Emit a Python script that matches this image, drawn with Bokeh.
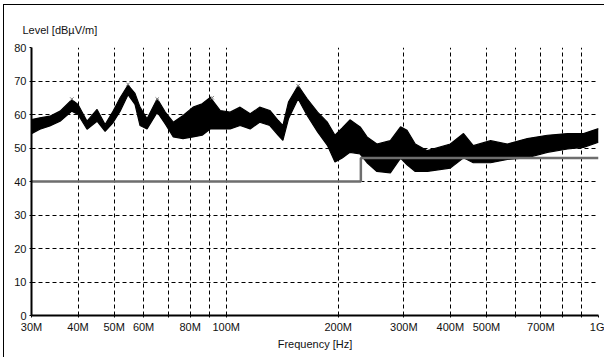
from bokeh.plotting import figure
from bokeh.models import Range1d, FixedTicker
from bokeh.embed import file_html
from bokeh.resources import INLINE

# Measured trace envelope (frequency in MHz, level in dBuV/m)
freq_mhz = [30, 31.6, 33.6, 35.8, 38.5, 40.0, 42.3, 45.0, 47.3, 49.7, 51.9, 54.5, 56.9,
            58.7, 61.3, 65.3, 68.6, 72.1, 76.6, 81.5, 86.2, 90.6, 96.3, 102.5, 109, 116,
            123, 131, 138, 142, 147, 156, 165, 176, 187, 196, 205, 215, 229, 239, 254,
            276, 294, 306, 322, 347, 400, 434, 461, 513, 569, 644, 729, 826, 912, 1000]
level_upper = [58.5, 59, 59.5, 61, 64.4, 63, 58, 61.5, 57, 61, 65, 68.8, 66.3,
               62.2, 58.7, 64.7, 60.7, 57.7, 59.7, 62.2, 63.2, 65.1, 61.2, 60.7, 62.2, 60.2,
               62.2, 61.2, 58.2, 56.7, 63.7, 68.6, 64.7, 60.7, 57.7, 53.8, 56, 58.4, 56.3, 53.3, 51.2,
               52.2, 56.3, 55.3, 51.2, 49.2, 51.2, 54.3, 50.7, 52.2, 51.2, 52.8, 53.8, 54.3, 54.3, 55.8]
level_lower = [54.3, 55.6, 56.6, 58, 61, 60, 55.6, 58, 55, 57.6, 61, 65.9, 63,
               56.7, 55.7, 60.7, 57.2, 53.3, 52.8, 53.3, 53.8, 55.7, 55.7, 55.7, 56.7, 55.7,
               57.7, 56.7, 53.8, 52.3, 58.7, 64.7, 59.7, 54.8, 50.8, 45.8, 47, 48.7, 48.2, 45.6, 43,
               42.6, 47, 45, 43, 43, 44, 47.1, 45.6, 45.6, 46.6, 47.1, 48.7, 49.7, 50.2, 51.7]

# Limit line
limit_freq = [30, 230, 230, 1000]
limit_level = [40, 40, 47, 47]

# Peak markers
peak_freq = [38.5, 54.5, 65.3, 91.7, 156]
peak_level = [64.6, 69.0, 64.6, 65.0, 68.6]

# Axis ticks
x_ticks = [30, 40, 50, 60, 70, 80, 90, 100, 200, 300, 400, 500, 600, 700, 800, 900, 1000]
x_tick_labels = ["30M", "40M", "50M", "60M", "", "80M", "", "100M", "200M", "300M",
                 "400M", "500M", "", "700M", "", "", "1G"]
y_ticks = [0, 10, 20, 30, 40, 50, 60, 70, 80]

font = "Liberation Sans"

p = figure(width=601, height=353, x_axis_type="log",
           x_range=Range1d(30, 1000), y_range=Range1d(0, 80),
           output_backend="svg", toolbar_location=None,
           min_border_left=27, min_border_right=7, min_border_top=42, min_border_bottom=43)
p.outline_line_color = None
p.background_fill_color = "white"
p.border_fill_color = "white"
p.styles = {
    "margin-left": "3px",
    "margin-top": "4px",
    "border-left": "1px solid black",
    "border-top": "1px solid black",
}

p.title.text = "Level [dBµV/m]"
p.title.align = "left"
p.title.offset = -9
p.title.standoff = 23
p.title.text_font = font
p.title.text_font_size = "11px"
p.title.text_font_style = "normal"
p.title.text_color = "#111111"

p.varea(x=freq_mhz, y1=level_lower, y2=level_upper, fill_color="black")
p.line(x=freq_mhz, y=level_upper, line_color="black", line_width=1.2)
p.line(x=freq_mhz, y=level_lower, line_color="black", line_width=1.2)
p.line(x=limit_freq, y=limit_level, line_color="#6e6e6e", line_width=2.5)
p.scatter(x=peak_freq, y=peak_level, marker="x", size=5, line_color="#808080", line_width=1)

p.xaxis.ticker = FixedTicker(ticks=x_ticks)
p.xaxis.major_label_overrides = {t: lab for t, lab in zip(x_ticks, x_tick_labels)}
p.yaxis.ticker = FixedTicker(ticks=y_ticks)
for ax in (p.xaxis, p.yaxis):
    ax.axis_line_color = "black"
    ax.axis_line_width = 2
    ax.major_tick_out = 2
    ax.major_tick_in = 0
    ax.minor_tick_out = 0
    ax.minor_tick_in = 0
    ax.major_tick_line_color = "black"
    ax.major_label_text_font = font
    ax.major_label_text_font_size = "11px"
    ax.major_label_text_color = "#111111"
    ax.major_label_standoff = 3
p.xaxis.axis_label = "Frequency [Hz]"
p.xaxis.axis_label_text_font = font
p.xaxis.axis_label_text_font_size = "11px"
p.xaxis.axis_label_text_font_style = "normal"
p.xaxis.axis_label_text_color = "#111111"
p.xaxis.axis_label_standoff = 2

for g in (p.xgrid, p.ygrid):
    g.grid_line_color = "black"
    g.grid_line_dash = "4 3"
    g.grid_line_width = 1
p.xgrid.ticker = FixedTicker(ticks=x_ticks)
p.ygrid.ticker = FixedTicker(ticks=y_ticks)

open("out.html", "w").write(file_html(p, INLINE))
